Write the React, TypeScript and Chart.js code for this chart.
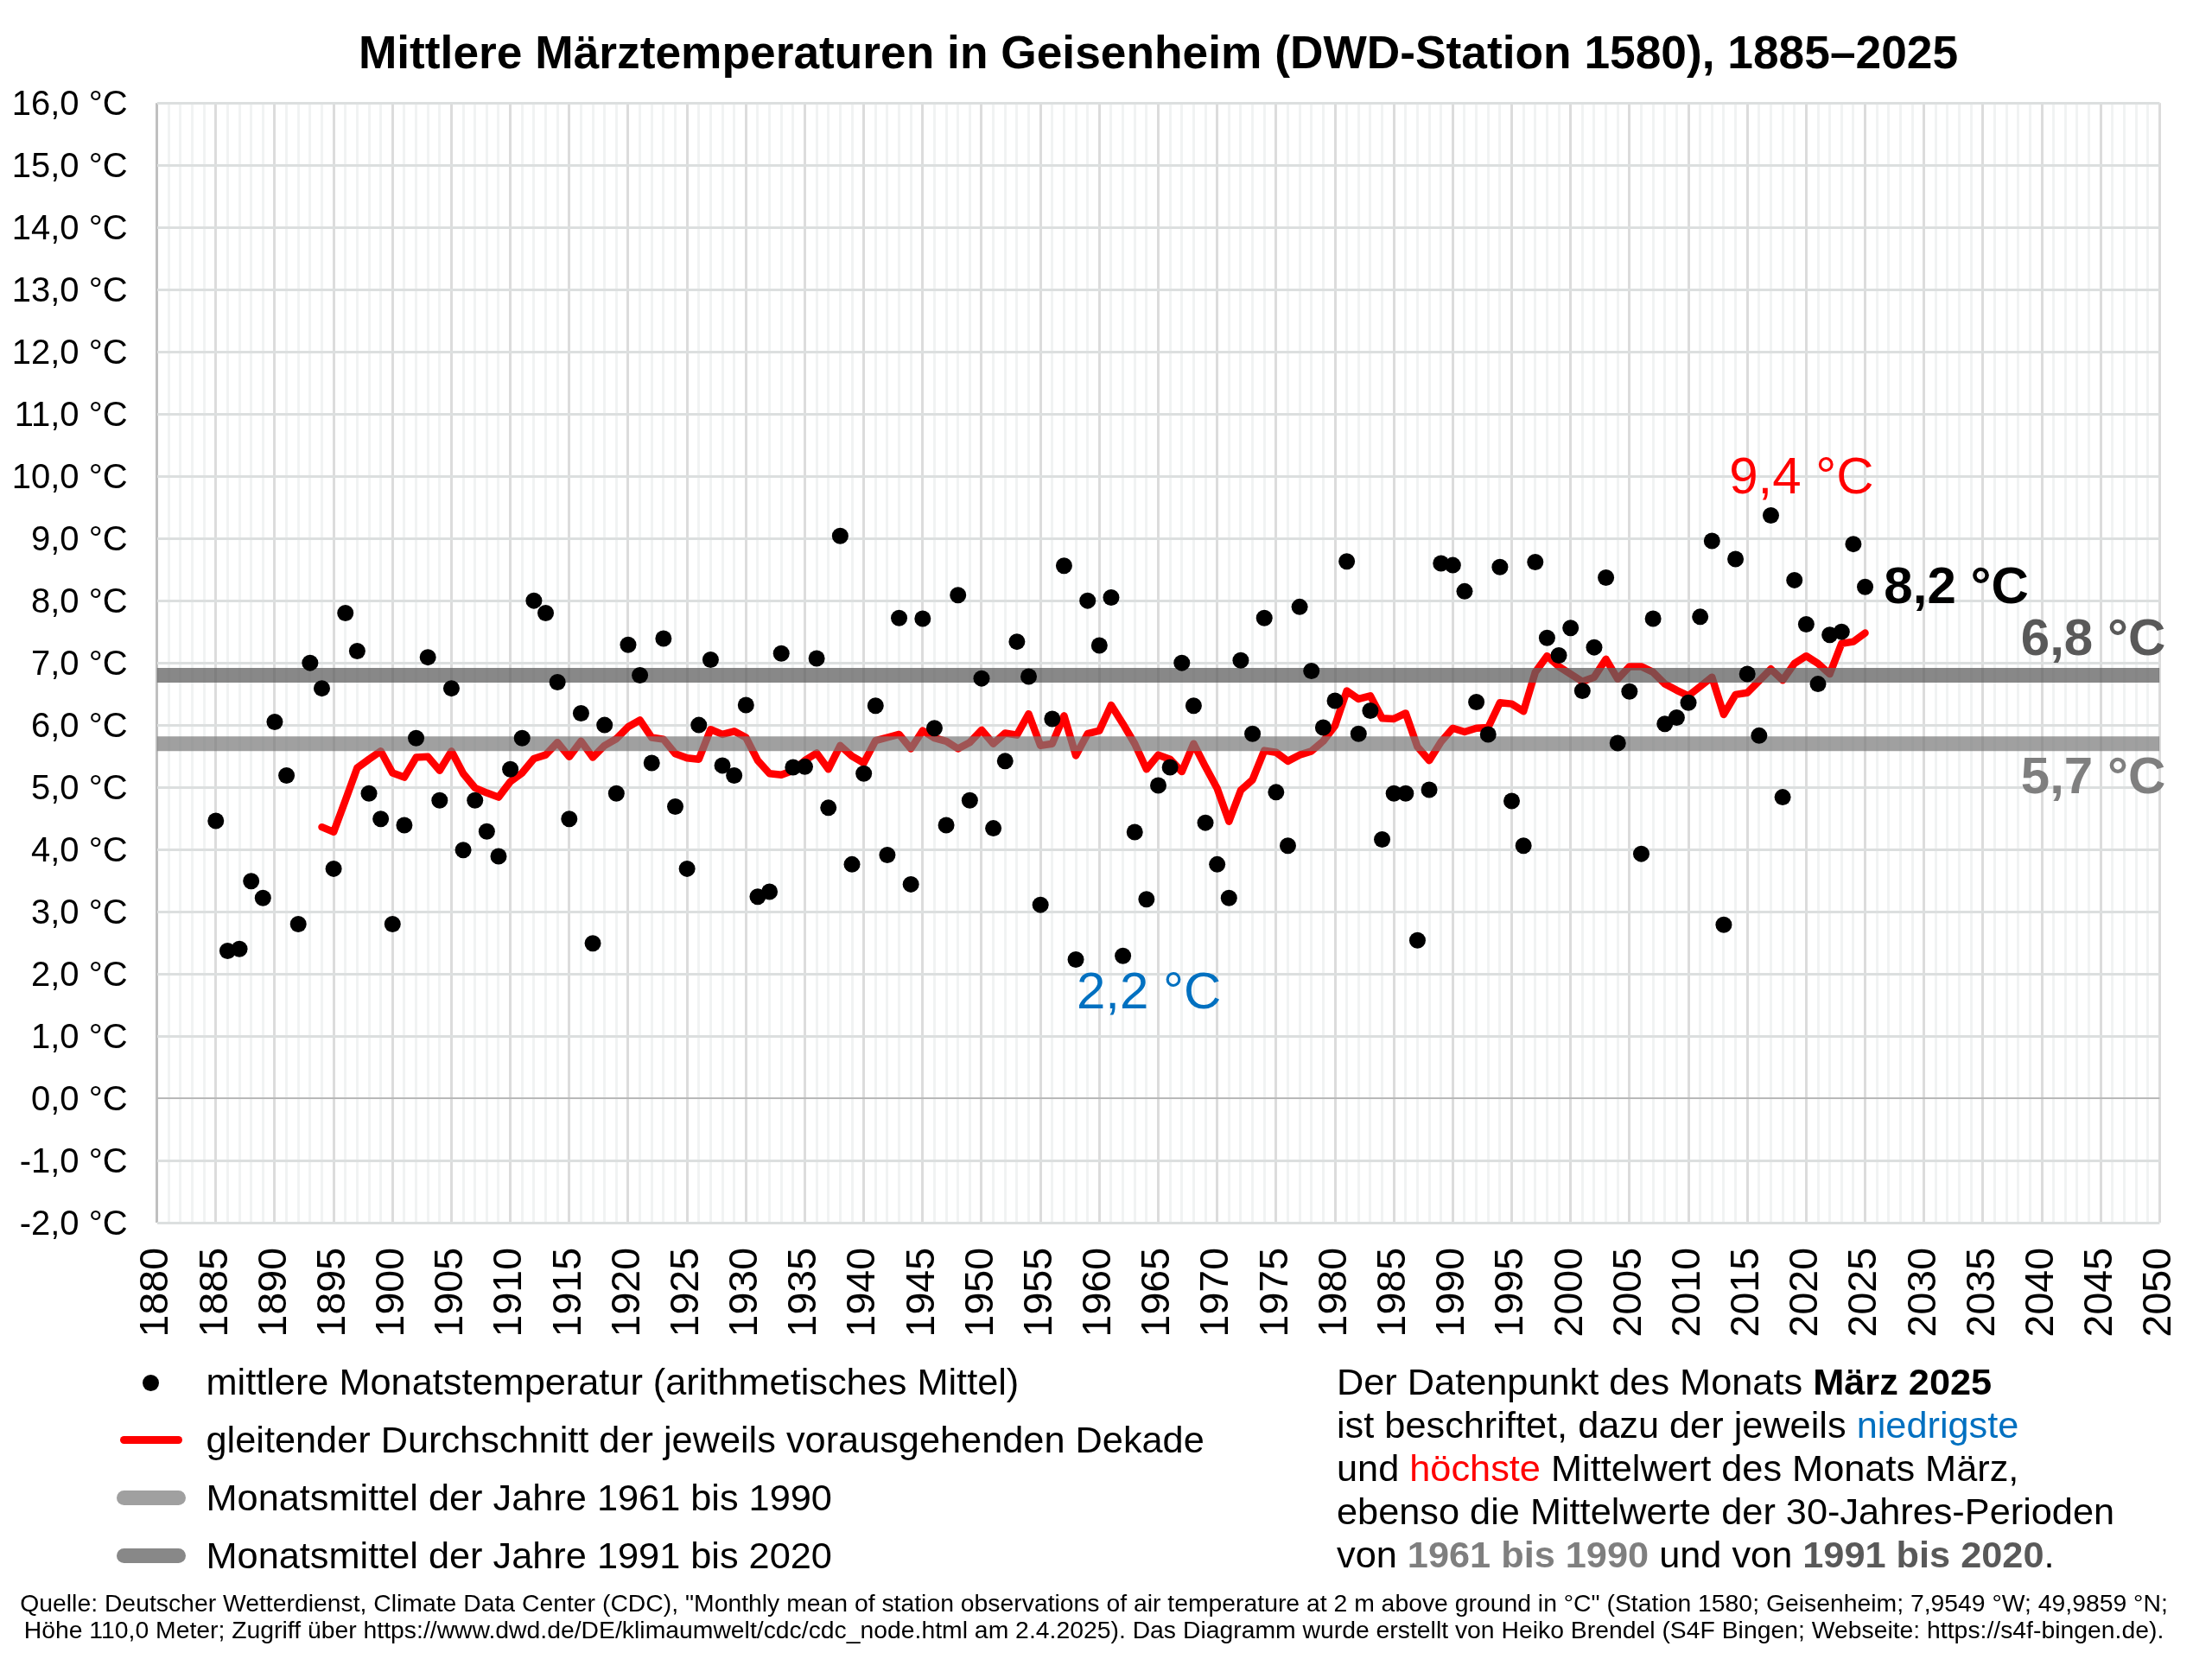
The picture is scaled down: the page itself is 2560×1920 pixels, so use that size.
import {useEffect, useRef} from 'react';
import {Chart, registerables} from 'chart.js';

Chart.register(...registerables);

const FONT = '"Liberation Sans", Arial, sans-serif';

const firstYear = 1885;
const avgFirstYear = 1894;

// mittlere Märztemperatur 1885–2025
const marchTemps = [
  4.46, 2.37, 2.40, 3.49, 3.22, 6.05, 5.19, 2.80, 7.00, 6.59,
  3.69, 7.80, 7.19, 4.90, 4.49, 2.80, 4.39, 5.79, 7.09, 4.79,
  6.59, 3.99, 4.79, 4.29, 3.89, 5.29, 5.79, 8.00, 7.80, 6.69,
  4.49, 6.19, 2.49, 6.00, 4.90, 7.29, 6.80, 5.39, 7.39, 4.69,
  3.69, 6.00, 7.05, 5.35, 5.19, 6.32, 3.24, 3.32, 7.15, 5.32,
  5.33, 7.07, 4.67, 9.04, 3.76, 5.22, 6.31, 3.91, 7.72, 3.44,
  7.71, 5.95, 4.39, 8.09, 4.79, 6.75, 4.34, 5.42, 7.34, 6.78,
  3.11, 6.10, 8.56, 2.23, 8.00, 7.28, 8.05, 2.29, 4.28, 3.20,
  5.03, 5.32, 7.00, 6.31, 4.43, 3.76, 3.22, 7.04, 5.86, 7.72,
  4.92, 4.06, 7.90, 6.87, 5.96, 6.39, 8.63, 5.86, 6.23, 4.16,
  4.90, 4.90, 2.54, 4.96, 8.60, 8.57, 8.15, 6.37, 5.85, 8.54,
  4.78, 4.06, 8.62, 7.40, 7.12, 7.56, 6.55, 7.25, 8.37, 5.71,
  6.54, 3.93, 7.71, 6.02, 6.12, 6.36, 7.74, 8.96, 2.79, 8.67,
  6.82, 5.83, 9.37, 4.84, 8.33, 7.62, 6.66, 7.45, 7.50, 8.91,
  8.22,
];

// gleitender Durchschnitt 1894–2025
const movingAvg = [
  4.36, 4.28, 4.79, 5.31, 5.45, 5.58, 5.23, 5.16, 5.48, 5.49,
  5.27, 5.58, 5.22, 4.99, 4.91, 4.84, 5.09, 5.23, 5.46, 5.52,
  5.72, 5.49, 5.74, 5.48, 5.67, 5.78, 5.97, 6.08, 5.80, 5.77,
  5.54, 5.47, 5.45, 5.93, 5.85, 5.90, 5.80, 5.43, 5.22, 5.20,
  5.27, 5.43, 5.55, 5.29, 5.67, 5.50, 5.39, 5.75, 5.80, 5.85,
  5.62, 5.91, 5.79, 5.74, 5.62, 5.72, 5.92, 5.70, 5.87, 5.84,
  6.18, 5.67, 5.70, 6.15, 5.51, 5.86, 5.91, 6.32, 6.02, 5.70,
  5.29, 5.52, 5.45, 5.25, 5.70, 5.33, 4.98, 4.45, 4.95, 5.12,
  5.59, 5.56, 5.42, 5.52, 5.58, 5.74, 5.99, 6.55, 6.42, 6.47,
  6.11, 6.10, 6.19, 5.65, 5.43, 5.73, 5.95, 5.89, 5.95, 5.96,
  6.36, 6.34, 6.22, 6.85, 7.11, 6.94, 6.82, 6.70, 6.77, 7.06,
  6.74, 6.94, 6.94, 6.85, 6.66, 6.56, 6.47, 6.62, 6.77, 6.17,
  6.49, 6.52, 6.71, 6.90, 6.72, 6.99, 7.11, 6.99, 6.82, 7.31,
  7.34, 7.48,
];

const refYears = [1880, 2050];
const mean6190 = [5.7, 5.7];
const mean9120 = [6.8, 6.8];

const legendLabels = [
  'mittlere Monatstemperatur (arithmetisches Mittel)',
  'gleitender Durchschnitt der jeweils vorausgehenden Dekade',
  'Monatsmittel der Jahre 1961 bis 1990',
  'Monatsmittel der Jahre 1991 bis 2020',
];

const RED = '#ff0000';
const BLUE = '#0070c0';
const GREY_LIGHT = '#7f7f7f';
const GREY_DARK = '#595959';

const fmt = (v: number) => v.toFixed(1).replace('.', ',') + ' °C';

// Beschriftungen direkt im Diagramm, Position in Achsenwerten
const valueLabels = [
  {text: '9,4 °C', year: 2019.6, temp: 9.96, color: RED, bold: false, align: 'center'},
  {text: '2,2 °C', year: 1964.2, temp: 1.67, color: BLUE, bold: false, align: 'center'},
  {text: '8,2 °C', year: 2026.6, temp: 8.19, color: '#000000', bold: true, align: 'left'},
  {text: '6,8 °C', year: 2050.5, temp: 7.35, color: GREY_DARK, bold: true, align: 'right'},
  {text: '5,7 °C', year: 2050.5, temp: 5.14, color: GREY_LIGHT, bold: true, align: 'right'},
];

const valueLabelPlugin = {
  id: 'valueLabels',
  // y-Achsenbeschriftung sitzt im Original etwas tiefer
  beforeDraw(chart: any) {
    chart.scales.y.getLabelItems().forEach((item: any) => {
      if (!item.shifted) {
        item.options.translation[1] += 3;
        item.shifted = true;
      }
    });
  },
  afterDatasetsDraw(chart: any) {
    const {ctx, scales} = chart;
    ctx.save();
    ctx.textBaseline = 'middle';
    valueLabels.forEach((l) => {
      ctx.font = `${l.bold ? 'bold ' : ''}60px ${FONT}`;
      ctx.fillStyle = l.color;
      ctx.textAlign = l.align;
      ctx.fillText(l.text, scales.x.getPixelForValue(l.year), scales.y.getPixelForValue(l.temp));
    });
    ctx.restore();
  },
};

const textStyle: React.CSSProperties = {
  position: 'absolute',
  whiteSpace: 'nowrap',
  fontFamily: FONT,
  color: '#000',
  lineHeight: 1,
};

const Row = ({y, children}: {y: number; children: React.ReactNode}) => (
  <div style={{...textStyle, left: 238.5, top: y - 22, fontSize: 43.3}}>{children}</div>
);

const NoteLine = ({y, children}: {y: number; children: React.ReactNode}) => (
  <div style={{...textStyle, left: 1547, top: y - 22, fontSize: 43.3}}>{children}</div>
);

const Swatch = ({x, y, w, h, color}: {x: number; y: number; w: number; h: number; color: string}) => (
  <div style={{position: 'absolute', left: x, top: y - h / 2, width: w, height: h, background: color, borderRadius: h / 2}} />
);

export default function App() {
  const canvasRef = useRef<HTMLCanvasElement | null>(null);

  useEffect(() => {
    const chart = new Chart(canvasRef.current!, {
      type: 'line',
      data: {
        datasets: [
          {
            label: legendLabels[0],
            data: marchTemps.map((t, i) => ({x: firstYear + i, y: t})),
            showLine: false,
            pointRadius: 9.5,
            pointBackgroundColor: '#000',
            pointBorderWidth: 0,
            order: 0,
          },
          {
            label: legendLabels[2],
            data: refYears.map((x, i) => ({x, y: mean6190[i]})),
            borderColor: 'rgba(120,120,120,0.7)',
            borderWidth: 17,
            pointRadius: 0,
            order: 1,
          },
          {
            label: legendLabels[3],
            data: refYears.map((x, i) => ({x, y: mean9120[i]})),
            borderColor: 'rgba(96,96,96,0.75)',
            borderWidth: 17,
            pointRadius: 0,
            order: 1,
          },
          {
            label: legendLabels[1],
            data: movingAvg.map((t, i) => ({x: avgFirstYear + i, y: t})),
            borderColor: RED,
            borderWidth: 8.5,
            borderCapStyle: 'round',
            borderJoinStyle: 'round',
            pointRadius: 0,
            tension: 0,
            order: 2,
          },
        ],
      },
      options: {
        animation: false,
        responsive: false,
        devicePixelRatio: 1,
        layout: {padding: {left: 0, right: 60.6, top: 0, bottom: 0}},
        plugins: {
          legend: {display: false},
          tooltip: {enabled: false},
          title: {
            display: true,
            text: 'Mittlere Märztemperaturen in Geisenheim (DWD-Station 1580), 1885–2025',
            fullSize: false,
            color: '#000',
            font: {family: FONT, size: 53.3, weight: 'bold', lineHeight: 1.2},
            padding: {top: 32, bottom: 23.3},
          },
        },
        scales: {
          x: {
            type: 'linear',
            min: 1880,
            max: 2050,
            afterFit: (s: any) => {
              s.height = 505;
              s.paddingLeft = 0;
              s.paddingRight = 0;
            },
            border: {display: false},
            grid: {
              drawTicks: false,
              lineWidth: 3,
              color: (c: any) => {
                if (c.tick.value === 1880) return '#c0c0c0';
                return c.tick.value % 5 === 0 ? '#dcdcdc' : '#f1f3f3';
              },
            },
            ticks: {
              stepSize: 1,
              autoSkip: false,
              minRotation: 90,
              maxRotation: 90,
              padding: 29,
              color: '#000',
              font: {family: FONT, size: 46.5},
              callback: (v: any) => (v % 5 === 0 ? String(v) : ''),
            },
          },
          y: {
            min: -2,
            max: 16,
            afterFit: (s: any) => {
              s.width = 181.6;
            },
            border: {display: false},
            grid: {
              drawTicks: false,
              lineWidth: (c: any) => (c.tick.value === 0 ? 2 : 3),
              color: (c: any) => (c.tick.value === 0 ? '#b8b8b8' : '#dcdfdf'),
            },
            ticks: {
              stepSize: 1,
              padding: 34,
              color: '#000',
              font: {family: FONT, size: 40},
              callback: (v: any) => fmt(v),
            },
          },
        },
      },
      plugins: [valueLabelPlugin],
    } as any);
    return () => chart.destroy();
  }, []);

  return (
    <div style={{position: 'absolute', left: 0, top: 0, width: 2560, height: 1920, background: '#fff', overflow: 'hidden'}}>
      <canvas ref={canvasRef} width={2560} height={1920} style={{display: 'block'}} />

      <div style={{position: 'absolute', left: 165, top: 1590.5, width: 19, height: 19, borderRadius: '50%', background: '#000'}} />
      <Swatch x={139} y={1666.5} w={72} h={9} color={RED} />
      <Swatch x={135} y={1733.5} w={80} h={17} color="#a0a0a0" />
      <Swatch x={135} y={1800.5} w={80} h={17} color="#888888" />
      <Row y={1600}>{legendLabels[0]}</Row>
      <Row y={1667}>{legendLabels[1]}</Row>
      <Row y={1734}>{legendLabels[2]}</Row>
      <Row y={1801}>{legendLabels[3]}</Row>

      <NoteLine y={1600}>Der Datenpunkt des Monats <b>März 2025</b></NoteLine>
      <NoteLine y={1650}>ist beschriftet, dazu der jeweils <span style={{color: BLUE}}>niedrigste</span></NoteLine>
      <NoteLine y={1700}>und <span style={{color: RED}}>höchste</span> Mittelwert des Monats März,</NoteLine>
      <NoteLine y={1750}>ebenso die Mittelwerte der 30-Jahres-Perioden</NoteLine>
      <NoteLine y={1800}>von <b style={{color: GREY_LIGHT}}>1961 bis 1990</b> und von <b style={{color: GREY_DARK}}>1991 bis 2020</b>.</NoteLine>

      <div style={{...textStyle, left: 0, width: 2532, textAlign: 'center', top: 1840.5, fontSize: 28.35}}>
        Quelle: Deutscher Wetterdienst, Climate Data Center (CDC), "Monthly mean of station observations of air temperature at 2 m above ground in °C" (Station 1580; Geisenheim; 7,9549 °W; 49,9859 °N;
      </div>
      <div style={{...textStyle, left: 0, width: 2532, textAlign: 'center', top: 1871.5, fontSize: 28.35}}>
        Höhe 110,0 Meter; Zugriff über https://www.dwd.de/DE/klimaumwelt/cdc/cdc_node.html am 2.4.2025). Das Diagramm wurde erstellt von Heiko Brendel (S4F Bingen; Webseite: https://s4f-bingen.de).
      </div>
    </div>
  );
}
